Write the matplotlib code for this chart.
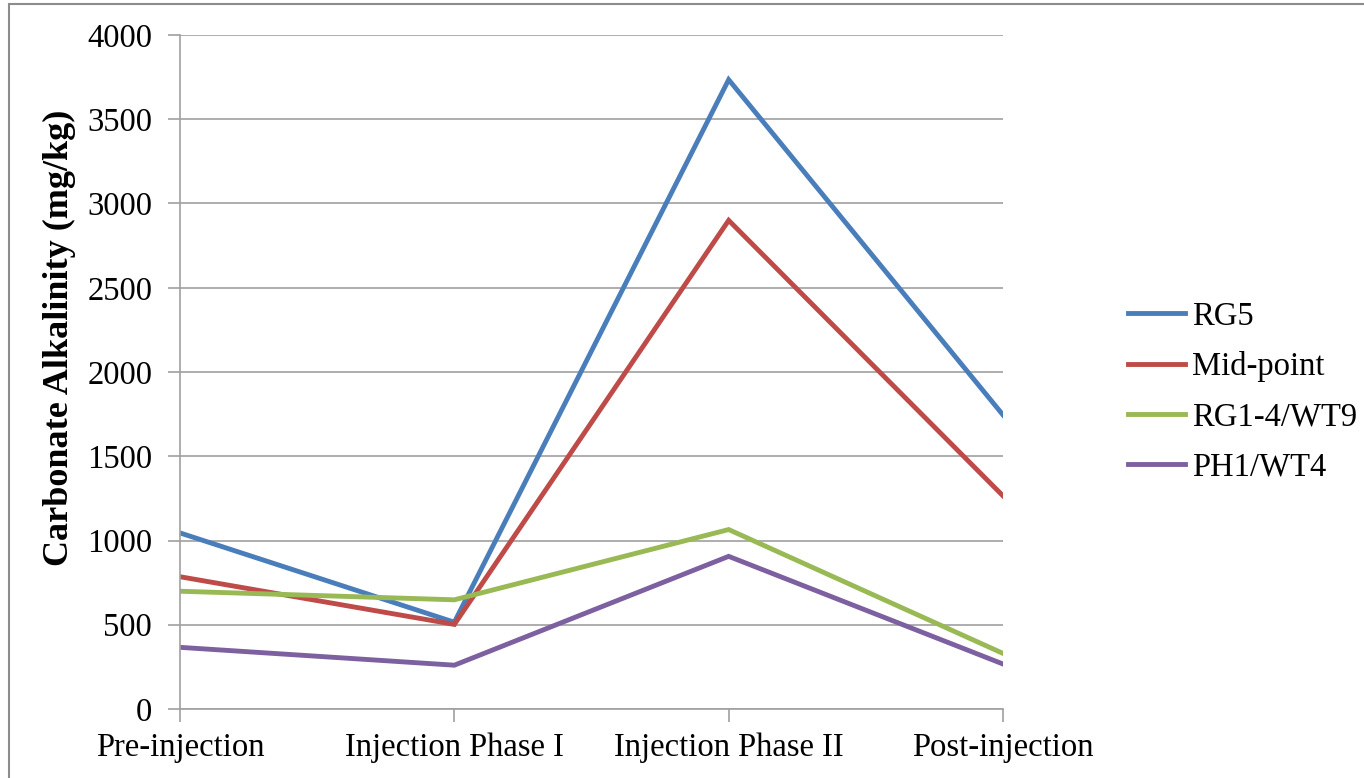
import matplotlib.pyplot as plt
from matplotlib.patches import Rectangle

plt.rcParams['font.family'] = ['Liberation Serif', 'DejaVu Serif']

categories = ['Pre-injection', 'Injection Phase I', 'Injection Phase II', 'Post-injection']
rg5 = [1045, 515, 3735, 1745]
mid_point = [785, 502, 2900, 1265]
rg1_4_wt9 = [699, 648, 1065, 330]
ph1_wt4 = [366, 260, 906, 267]

series = [
    ('RG5', rg5, '#4A7EBB'),
    ('Mid-point', mid_point, '#BE4B48'),
    ('RG1-4/WT9', rg1_4_wt9, '#98B954'),
    ('PH1/WT4', ph1_wt4, '#7D60A0'),
]

fig = plt.figure(figsize=(13.64, 7.78), dpi=100)
ax = fig.add_axes([180 / 1364, 1 - 709 / 778, 823 / 1364, 674 / 778])

x = range(len(categories))
for name, vals, col in series:
    ax.plot(x, vals, color=col, lw=3.5, label=name, solid_joinstyle='miter')

ax.set_xlim(0, len(categories) - 1)
ax.set_ylim(0, 4000)
ax.set_yticks(range(0, 4001, 500))
ax.set_xticks(list(x))
ax.set_xticklabels(categories, fontsize=23.5)
ax.tick_params(axis='y', labelsize=23.5, length=9, color='#A0A0A0', width=1.2, pad=11)
ax.tick_params(axis='x', length=9, color='#A0A0A0', width=1.2, pad=8)
ax.grid(axis='y', color='#A0A0A0', lw=1.2)
ax.set_axisbelow(True)
for s in ['top', 'right']:
    ax.spines[s].set_visible(False)
for s in ['left', 'bottom']:
    ax.spines[s].set_color('#A0A0A0')
    ax.spines[s].set_linewidth(1.2)

ax.set_ylabel('Carbonate Alkalinity (mg/kg)', fontsize=26, fontweight='bold')
ax.yaxis.set_label_coords(-0.126, 0.55)

leg = ax.legend(loc='center left', bbox_to_anchor=(1128 / 1364, 1 - 392 / 778),
                bbox_transform=fig.transFigure, frameon=False, fontsize=23.5,
                handlelength=1.75, handletextpad=0.2, labelspacing=0.6,
                borderpad=0, borderaxespad=0)

fig.patches.append(Rectangle((9 / 1364, -0.01), 1.0, 1 - 4 / 778 + 0.01,
                             transform=fig.transFigure, fill=False,
                             edgecolor='#8C8C8C', lw=1.5))

fig.savefig('out.png', dpi=100)
